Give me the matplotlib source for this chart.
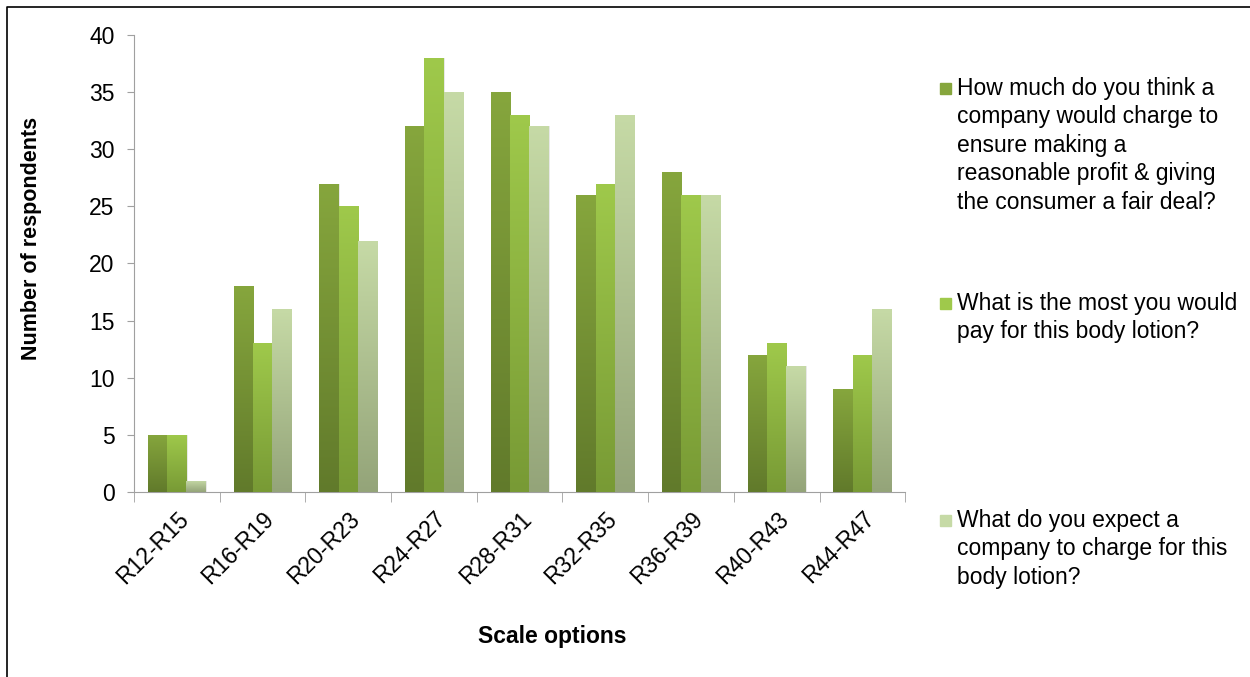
import matplotlib.pyplot as plt
import numpy as np
from matplotlib.colors import LinearSegmentedColormap
from matplotlib.patches import Rectangle
from matplotlib.lines import Line2D

plt.rcParams['font.family'] = ['Liberation Sans', 'DejaVu Sans']

categories = ['R12-R15', 'R16-R19', 'R20-R23', 'R24-R27', 'R28-R31',
              'R32-R35', 'R36-R39', 'R40-R43', 'R44-R47']
fair_deal = [5, 18, 27, 32, 35, 26, 28, 12, 9]
most_pay = [5, 13, 25, 38, 33, 27, 26, 13, 12]
expect_charge = [1, 16, 22, 35, 32, 33, 26, 11, 16]

labels = ['How much do you think a\ncompany would charge to\nensure making a\n'
          'reasonable profit & giving\nthe consumer a fair deal?',
          'What is the most you would\npay for this body lotion?',
          'What do you expect a\ncompany to charge for this\nbody lotion?']
series = [fair_deal, most_pay, expect_charge]
# (bottom, top) colours of each bar gradient
grads = [('#617a2b', '#86a63d'), ('#789a35', '#9fc94b'), ('#94a479', '#c6daa6')]
fs = 16.5

fig = plt.figure(figsize=(12.5, 6.77), dpi=100)
ax = fig.add_axes([0.1072, 0.2733, 0.617, 0.675])

x = np.arange(len(categories))
w = 0.225
grad = np.linspace(0, 1, 256).reshape(-1, 1)
for i, (vals, (c0, c1)) in enumerate(zip(series, grads)):
    cmap = LinearSegmentedColormap.from_list('g%d' % i, [c0, c1])
    bars = ax.bar(x + (i - 1) * w, vals, w, color=c1, linewidth=0, zorder=2)
    for b in bars:
        bx, by = b.get_x(), b.get_y()
        bw, bh = b.get_width(), b.get_height()
        # soft shadow on the right edge
        ax.add_patch(Rectangle((bx + bw, by), 0.012, bh, color='#e8e8e8',
                               linewidth=0, zorder=1))
        im = ax.imshow(grad, cmap=cmap, origin='lower', aspect='auto',
                       extent=(bx, bx + bw, by, by + bh), zorder=3)
        im.set_clip_path(b)

ax.set_xlim(-0.5, len(categories) - 0.5)
ax.set_ylim(0, 40)
ax.set_yticks(range(0, 41, 5))
ax.set_xticks(x)
ax.set_xticklabels(categories, rotation=45, ha='right', rotation_mode='anchor')
ax.set_xticks(np.arange(-0.5, len(categories)), minor=True)
ax.tick_params(axis='x', which='major', length=0, pad=11, labelsize=fs)
ax.tick_params(axis='x', which='minor', length=7, color='#a0a0a0', direction='out')
ax.tick_params(axis='y', length=5, color='#a0a0a0', labelsize=fs, pad=9)

for s in ['top', 'right']:
    ax.spines[s].set_visible(False)
for s in ['left', 'bottom']:
    ax.spines[s].set_color('#a0a0a0')

fig.text(552 / 1250, 1 - 636 / 677, 'Scale options', ha='center', va='center',
         fontsize=fs, fontweight='bold')
fig.text(32 / 1250, 1 - 238 / 677, 'Number of respondents', ha='center',
         va='center', rotation=90, fontsize=fs - 1, fontweight='bold')

# legend drawn by hand so the swatch sits on the first line of each label
leg_y = [88, 303, 520]
for lab, (c0, c1), yy in zip(labels, grads, leg_y):
    fig.text(957 / 1250, 1 - (yy - 11) / 677, lab, ha='left', va='top',
             fontsize=fs, linespacing=1.3)
    fig.patches.append(Rectangle((940 / 1250, 1 - (yy + 6) / 677), 11 / 1250,
                                 11 / 677, transform=fig.transFigure,
                                 color=c1, zorder=3))

# outer frame (top and left edges)
fig.lines.append(Line2D([7 / 1250, 7 / 1250, 1], [0, 1 - 7 / 677, 1 - 7 / 677],
                        transform=fig.transFigure, color='black', linewidth=1.2))

fig.savefig('out.png', dpi=100)
